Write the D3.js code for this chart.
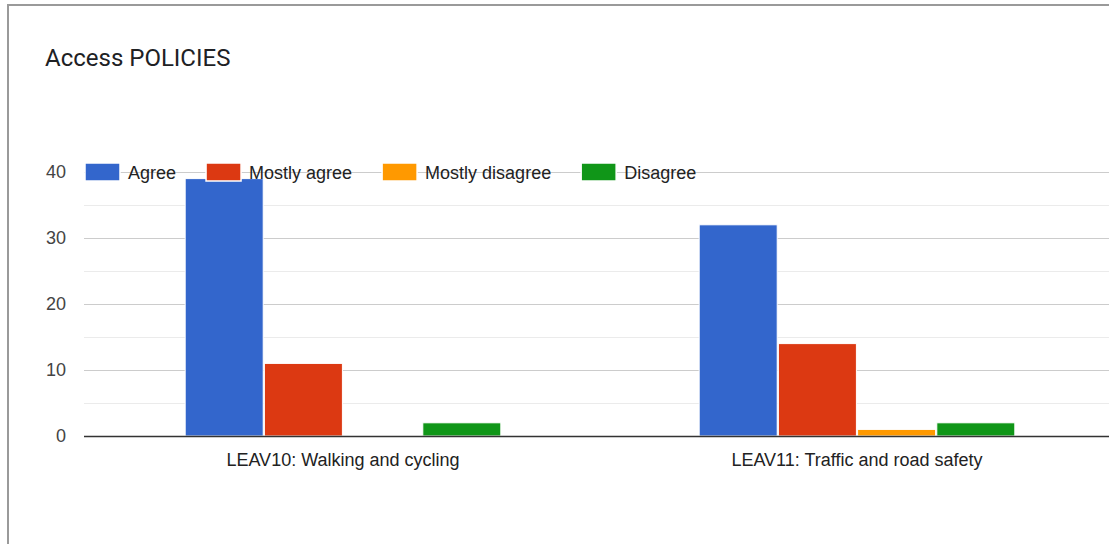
<!DOCTYPE html>
<html><head><meta charset="utf-8">
<script src="https://cdn.jsdelivr.net/npm/d3@7"></script>
<style>
html,body{margin:0;padding:0;background:#fff;}
svg{display:block;}
</style></head>
<body>
<script>
const title = "Access POLICIES";
const categories = ["LEAV10: Walking and cycling", "LEAV11: Traffic and road safety"];
const seriesNames = ["Agree", "Mostly agree", "Mostly disagree", "Disagree"];
const seriesColors = ["#3366cc", "#dc3912", "#ff9900", "#109618"];
const agree = [39, 32];
const mostlyAgree = [11, 14];
const mostlyDisagree = [0, 1];
const disagree = [2, 2];
const yTicks = [0, 10, 20, 30, 40];
const yMinorTicks = [5, 15, 25, 35];

const seriesValues = [agree, mostlyAgree, mostlyDisagree, disagree];
const W = 1109, H = 544;
const svg = d3.select("body").append("svg").attr("width", W).attr("height", H);

// outer frame
svg.append("rect").attr("x", 8).attr("y", 5).attr("width", W + 10).attr("height", H + 10)
  .attr("fill", "#fff").attr("stroke", "#9a9a9a").attr("stroke-width", 2);

svg.append("text").attr("x", 45).attr("y", 66)
  .attr("font-family", "Roboto, 'Noto Sans', sans-serif").attr("font-size", 24)
  .attr("fill", "#202124").text(title);

const left = 84;
const y = d3.scaleLinear().domain([0, 40]).range([436, 172]);
const x0 = d3.scaleBand().domain(categories).range([86, 1114])
  .paddingInner(0.3813).paddingOuter(0.19065);
const x1 = d3.scaleBand().domain(seriesNames).range([0, x0.bandwidth()]).padding(0.015);

const font = "'Liberation Sans', Arial, sans-serif";

// minor gridlines
svg.append("g").selectAll("line").data(yMinorTicks).join("line")
  .attr("x1", left).attr("x2", W).attr("y1", d => Math.round(y(d)) + 0.5).attr("y2", d => Math.round(y(d)) + 0.5)
  .attr("stroke", "#ebebeb").attr("stroke-width", 1);
// major gridlines
svg.append("g").selectAll("line").data(yTicks.filter(d => d !== 0)).join("line")
  .attr("x1", left).attr("x2", W).attr("y1", d => Math.round(y(d)) + 0.5).attr("y2", d => Math.round(y(d)) + 0.5)
  .attr("stroke", "#cccccc").attr("stroke-width", 1);

// y labels via axis
const yAxis = svg.append("g").attr("transform", `translate(${left - 18},0)`)
  .call(d3.axisLeft(y).tickValues(yTicks).tickSize(0).tickPadding(0));
yAxis.select(".domain").remove();
yAxis.selectAll("text").attr("font-family", font).attr("font-size", 18).attr("fill", "#444");

// bars
const groups = svg.append("g").selectAll("g").data(categories).join("g")
  .attr("transform", d => `translate(${x0(d)},0)`);
groups.selectAll("rect")
  .data((c, ci) => seriesNames.map((s, si) => ({ s, si, v: seriesValues[si][ci] })))
  .join("rect")
  .attr("x", d => x1(d.s))
  .attr("width", x1.bandwidth())
  .attr("y", d => y(d.v))
  .attr("height", d => y(0) - y(d.v))
  .attr("fill", d => seriesColors[d.si])
  .attr("stroke", "#fff").attr("stroke-width", 1);

// baseline
svg.append("line").attr("x1", left).attr("x2", W).attr("y1", y(0) + 0.5).attr("y2", y(0) + 0.5)
  .attr("stroke", "#333").attr("stroke-width", 1.5);

// x axis labels
const xAxis = svg.append("g").attr("transform", `translate(0,${y(0) + 17})`)
  .call(d3.axisBottom(x0).tickSize(0).tickPadding(0));
xAxis.select(".domain").remove();
xAxis.selectAll("text").attr("font-family", font).attr("font-size", 18).attr("fill", "#222");

// legend
const legend = svg.append("g");
let lx = 85;
seriesNames.forEach((name, i) => {
  legend.append("rect").attr("x", lx).attr("y", 163).attr("width", 35).attr("height", 18)
    .attr("fill", seriesColors[i]).attr("stroke", "#fff").attr("stroke-width", 1.5);
  const t = legend.append("text").attr("x", lx + 43).attr("y", 179)
    .attr("font-family", font).attr("font-size", 18).attr("fill", "#222").text(name);
  lx += 43 + t.node().getComputedTextLength() + 30;
});
</script>
</body></html>
